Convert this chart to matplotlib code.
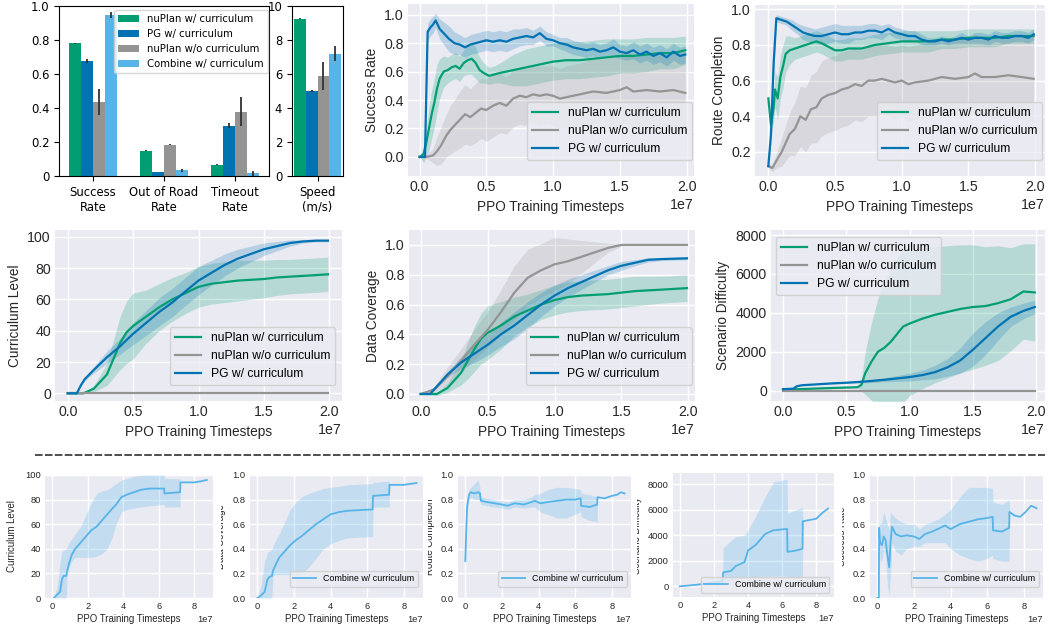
import numpy as np
import matplotlib
matplotlib.use("Agg")
import matplotlib.pyplot as plt
from matplotlib.lines import Line2D
from matplotlib.transforms import Bbox, TransformedBbox

plt.rcParams["font.family"] = ["Liberation Sans", "DejaVu Sans"]

W, H = 1049, 632
GREEN, BLUE, GREY, LBLUE = "#029E73", "#0173B2", "#949494", "#56B4E9"

# ---------------- bar chart data ----------------
methods = ["nuPlan w/ curriculum", "PG w/ curriculum", "nuPlan w/o curriculum", "Combine w/ curriculum"]
method_colors = [GREEN, BLUE, GREY, LBLUE]
rate_groups = ["Success\nRate", "Out of Road\nRate", "Timeout\nRate"]
rate_vals = [[0.78, 0.148, 0.066],
             [0.675, 0.025, 0.297],
             [0.435, 0.185, 0.378],
             [0.945, 0.033, 0.015]]
rate_errs = [[0.003, 0.002, 0.003],
             [0.013, 0.001, 0.015],
             [0.078, 0.003, 0.085],
             [0.018, 0.007, 0.015]]
speed_vals = [9.25, 5.0, 5.87, 7.2]
speed_errs = [0.04, 0.03, 0.82, 0.45]

# ---------------- 2e7 training curves: (x [1e7], mean, std) ----------------
pg_sr = [(0, 0, 0), (0.04, 0, 0), (0.06, 0.88, 0.06), (0.08, 0.91, 0.06), (0.1, 0.93, 0.06), (0.12, 0.96, 0.05),
         (0.15, 0.9, 0.07), (0.18, 0.87, 0.08), (0.22, 0.83, 0.09), (0.26, 0.8, 0.08), (0.3, 0.79, 0.07),
         (0.34, 0.77, 0.07), (0.38, 0.79, 0.07), (0.42, 0.8, 0.07), (0.46, 0.81, 0.07), (0.5, 0.82, 0.07),
         (0.55, 0.81, 0.07), (0.6, 0.82, 0.07), (0.65, 0.81, 0.07), (0.7, 0.83, 0.07), (0.75, 0.84, 0.06),
         (0.8, 0.85, 0.06), (0.85, 0.84, 0.05), (0.9, 0.87, 0.05), (0.95, 0.83, 0.05), (1.0, 0.82, 0.04),
         (1.05, 0.8, 0.04), (1.1, 0.79, 0.05), (1.15, 0.77, 0.05), (1.2, 0.76, 0.05), (1.25, 0.75, 0.05),
         (1.3, 0.76, 0.05), (1.35, 0.74, 0.05), (1.4, 0.75, 0.05), (1.45, 0.77, 0.06), (1.5, 0.74, 0.05),
         (1.55, 0.73, 0.05), (1.6, 0.75, 0.06), (1.65, 0.72, 0.06), (1.7, 0.74, 0.06), (1.75, 0.71, 0.06),
         (1.8, 0.73, 0.06), (1.85, 0.7, 0.06), (1.9, 0.74, 0.06), (1.95, 0.71, 0.06), (1.99, 0.72, 0.06)]
nu_sr = [(0, 0, 0), (0.03, 0.02, 0.06), (0.05, 0.1, 0.1), (0.07, 0.2, 0.15), (0.09, 0.3, 0.17), (0.11, 0.38, 0.17),
         (0.13, 0.48, 0.17), (0.15, 0.55, 0.14), (0.18, 0.6, 0.11), (0.21, 0.61, 0.09), (0.24, 0.63, 0.09),
         (0.27, 0.64, 0.09), (0.3, 0.62, 0.09), (0.33, 0.66, 0.09), (0.36, 0.68, 0.1), (0.39, 0.69, 0.11),
         (0.42, 0.66, 0.11), (0.45, 0.61, 0.09), (0.48, 0.59, 0.07), (0.52, 0.57, 0.06), (0.56, 0.58, 0.06),
         (0.6, 0.59, 0.07), (0.65, 0.6, 0.09), (0.7, 0.61, 0.11), (0.75, 0.62, 0.12), (0.8, 0.63, 0.13),
         (0.85, 0.64, 0.13), (0.9, 0.65, 0.13), (0.95, 0.66, 0.13), (1.0, 0.67, 0.13), (1.1, 0.68, 0.13),
         (1.2, 0.68, 0.13), (1.3, 0.69, 0.13), (1.4, 0.7, 0.13), (1.5, 0.71, 0.12), (1.6, 0.71, 0.12),
         (1.7, 0.72, 0.12), (1.8, 0.73, 0.11), (1.9, 0.73, 0.11), (1.99, 0.75, 0.1)]
wo_sr = [(0, 0, 0), (0.05, 0, 0.01), (0.1, 0.01, 0.05), (0.13, 0.04, 0.1), (0.16, 0.08, 0.13), (0.2, 0.15, 0.15),
         (0.23, 0.19, 0.17), (0.26, 0.22, 0.18), (0.3, 0.26, 0.2), (0.34, 0.3, 0.21), (0.38, 0.28, 0.2),
         (0.42, 0.31, 0.21), (0.46, 0.34, 0.21), (0.5, 0.33, 0.22), (0.55, 0.36, 0.22), (0.6, 0.38, 0.21),
         (0.65, 0.36, 0.2), (0.7, 0.41, 0.2), (0.75, 0.43, 0.2), (0.8, 0.42, 0.2), (0.85, 0.44, 0.2),
         (0.9, 0.43, 0.21), (0.95, 0.44, 0.2), (1.0, 0.43, 0.21), (1.05, 0.41, 0.21), (1.1, 0.42, 0.22),
         (1.15, 0.43, 0.22), (1.2, 0.44, 0.22), (1.3, 0.46, 0.23), (1.4, 0.45, 0.24), (1.5, 0.47, 0.25),
         (1.55, 0.49, 0.25), (1.6, 0.46, 0.26), (1.7, 0.47, 0.26), (1.8, 0.46, 0.27), (1.9, 0.47, 0.28),
         (1.99, 0.45, 0.29)]

pg_rc = [(0, 0.12, 0.01), (0.02, 0.3, 0.05), (0.04, 0.7, 0.06), (0.06, 0.95, 0.02), (0.1, 0.94, 0.02),
         (0.14, 0.93, 0.02), (0.18, 0.91, 0.03), (0.22, 0.89, 0.03), (0.26, 0.87, 0.04), (0.3, 0.86, 0.04),
         (0.35, 0.85, 0.04), (0.4, 0.85, 0.05), (0.45, 0.86, 0.05), (0.5, 0.87, 0.05), (0.55, 0.86, 0.05),
         (0.6, 0.86, 0.05), (0.65, 0.87, 0.04), (0.7, 0.87, 0.04), (0.75, 0.88, 0.04), (0.8, 0.88, 0.04),
         (0.85, 0.87, 0.04), (0.9, 0.89, 0.03), (0.95, 0.87, 0.03), (1.0, 0.86, 0.03), (1.05, 0.85, 0.03),
         (1.1, 0.85, 0.03), (1.15, 0.83, 0.03), (1.2, 0.82, 0.02), (1.25, 0.82, 0.02), (1.3, 0.83, 0.02),
         (1.35, 0.82, 0.02), (1.4, 0.83, 0.02), (1.45, 0.84, 0.03), (1.5, 0.83, 0.02), (1.55, 0.84, 0.03),
         (1.6, 0.84, 0.03), (1.65, 0.83, 0.03), (1.7, 0.85, 0.03), (1.75, 0.84, 0.03), (1.8, 0.84, 0.03),
         (1.85, 0.85, 0.03), (1.9, 0.85, 0.03), (1.95, 0.84, 0.03), (1.99, 0.86, 0.03)]
nu_rc = [(0, 0.5, 0.03), (0.02, 0.35, 0.05), (0.04, 0.45, 0.08), (0.05, 0.55, 0.1), (0.07, 0.5, 0.12),
         (0.09, 0.62, 0.12), (0.11, 0.68, 0.12), (0.13, 0.75, 0.1), (0.16, 0.77, 0.08), (0.2, 0.78, 0.06),
         (0.24, 0.79, 0.06), (0.28, 0.8, 0.06), (0.32, 0.81, 0.06), (0.36, 0.82, 0.06), (0.4, 0.81, 0.06),
         (0.45, 0.79, 0.06), (0.5, 0.77, 0.06), (0.55, 0.77, 0.06), (0.6, 0.78, 0.06), (0.7, 0.78, 0.06),
         (0.8, 0.8, 0.06), (0.9, 0.81, 0.06), (1.0, 0.82, 0.06), (1.1, 0.82, 0.06), (1.2, 0.82, 0.06),
         (1.3, 0.83, 0.05), (1.4, 0.83, 0.05), (1.5, 0.84, 0.05), (1.6, 0.84, 0.05), (1.7, 0.84, 0.05),
         (1.8, 0.85, 0.04), (1.9, 0.85, 0.04), (1.99, 0.85, 0.04)]
wo_rc = [(0, 0.12, 0.01), (0.03, 0.11, 0.02), (0.06, 0.15, 0.04), (0.1, 0.2, 0.08), (0.13, 0.25, 0.1),
         (0.16, 0.3, 0.12), (0.2, 0.33, 0.15), (0.24, 0.4, 0.17), (0.28, 0.38, 0.18), (0.32, 0.44, 0.19),
         (0.36, 0.45, 0.2), (0.4, 0.5, 0.21), (0.45, 0.52, 0.21), (0.5, 0.53, 0.21), (0.55, 0.55, 0.21),
         (0.6, 0.56, 0.21), (0.65, 0.58, 0.2), (0.7, 0.57, 0.2), (0.75, 0.6, 0.2), (0.8, 0.6, 0.2),
         (0.85, 0.61, 0.2), (0.9, 0.6, 0.2), (0.95, 0.59, 0.2), (1.0, 0.6, 0.2), (1.05, 0.58, 0.21),
         (1.1, 0.59, 0.21), (1.2, 0.6, 0.21), (1.3, 0.62, 0.21), (1.4, 0.61, 0.22), (1.5, 0.62, 0.22),
         (1.55, 0.64, 0.22), (1.6, 0.62, 0.22), (1.7, 0.62, 0.23), (1.8, 0.63, 0.23), (1.9, 0.62, 0.24),
         (1.99, 0.61, 0.24)]

pg_cl = [(0, 0, 0), (0.07, 0, 0), (0.1, 5, 0.5), (0.13, 9, 1), (0.2, 15, 2), (0.25, 19, 3), (0.3, 23, 4),
         (0.4, 30, 5), (0.5, 38, 7), (0.6, 45, 8), (0.7, 52, 9), (0.8, 58, 9), (0.87, 63, 9), (1.0, 72, 9),
         (1.1, 77, 8), (1.2, 82, 7), (1.3, 86, 6), (1.4, 89, 5), (1.5, 92, 4), (1.6, 94, 3), (1.7, 96, 2),
         (1.8, 97, 1), (1.9, 97.5, 0.8), (1.99, 97.5, 0.6)]
nu_cl = [(0, 0, 0), (0.12, 0, 0), (0.2, 3, 2), (0.3, 12, 7), (0.35, 22, 12), (0.4, 32, 17), (0.45, 39, 20),
         (0.5, 43, 21), (0.55, 46, 19), (0.6, 49, 17), (0.7, 55, 15), (0.8, 60, 14), (0.9, 64, 13),
         (1.0, 68, 13), (1.1, 70, 13), (1.2, 71, 13), (1.3, 72, 13), (1.4, 72.5, 12.5), (1.5, 73, 12),
         (1.6, 74, 11.5), (1.7, 74.5, 11), (1.8, 75, 11), (1.9, 75.5, 11), (1.99, 76, 11)]
wo_cl = [(0, 0, 0), (1.99, 0, 0)]

pg_dc = [(0, 0, 0), (0.07, 0, 0), (0.12, 0.05, 0.01), (0.2, 0.13, 0.02), (0.3, 0.21, 0.04), (0.4, 0.27, 0.06),
         (0.5, 0.33, 0.07), (0.6, 0.4, 0.08), (0.7, 0.46, 0.09), (0.8, 0.53, 0.09), (0.9, 0.6, 0.08),
         (1.0, 0.66, 0.07), (1.1, 0.71, 0.06), (1.2, 0.75, 0.05), (1.3, 0.79, 0.04), (1.4, 0.83, 0.03),
         (1.5, 0.86, 0.03), (1.6, 0.88, 0.02), (1.7, 0.9, 0.015), (1.8, 0.905, 0.01), (1.99, 0.91, 0.01)]
nu_dc = [(0, 0, 0), (0.12, 0, 0.01), (0.2, 0.04, 0.03), (0.3, 0.14, 0.08), (0.35, 0.22, 0.12),
         (0.4, 0.3, 0.15), (0.45, 0.37, 0.17), (0.5, 0.41, 0.18), (0.6, 0.46, 0.16), (0.7, 0.52, 0.13),
         (0.8, 0.56, 0.11), (0.9, 0.6, 0.1), (1.0, 0.63, 0.1), (1.1, 0.65, 0.1), (1.2, 0.66, 0.1),
         (1.4, 0.67, 0.1), (1.6, 0.69, 0.1), (1.8, 0.7, 0.09), (1.99, 0.71, 0.09)]
wo_dc = [(0, 0, 0), (0.1, 0.03, 0.02), (0.2, 0.12, 0.06), (0.3, 0.22, 0.08), (0.4, 0.33, 0.1),
         (0.5, 0.43, 0.12), (0.6, 0.55, 0.15), (0.7, 0.68, 0.18), (0.8, 0.78, 0.19), (0.9, 0.83, 0.18),
         (1.0, 0.87, 0.18), (1.1, 0.89, 0.15), (1.2, 0.92, 0.11), (1.3, 0.95, 0.07), (1.4, 0.98, 0.03),
         (1.5, 1.0, 0.005), (1.6, 1.0, 0), (1.99, 1.0, 0)]

pg_sd = [(0, 80, 10), (0.08, 100, 20), (0.11, 230, 20), (0.15, 280, 20), (0.2, 300, 20), (0.3, 340, 20),
         (0.4, 380, 30), (0.5, 410, 40), (0.6, 450, 60), (0.7, 500, 80), (0.8, 560, 100), (0.9, 630, 150),
         (1.0, 700, 200), (1.1, 800, 250), (1.2, 950, 350), (1.3, 1200, 450), (1.4, 1550, 650),
         (1.5, 2100, 850), (1.6, 2700, 850), (1.7, 3300, 700), (1.8, 3800, 500), (1.9, 4100, 400),
         (1.99, 4300, 350)]
nu_sd = [(0, 50, 20), (0.3, 120, 30), (0.59, 180, 40), (0.62, 300, 300), (0.65, 900, 1100),
         (0.7, 1500, 2000), (0.75, 2000, 2750), (0.8, 2200, 3300), (0.85, 2500, 3700), (0.9, 2900, 3900),
         (0.95, 3300, 3900), (1.0, 3450, 3700), (1.1, 3700, 3600), (1.2, 3900, 3500), (1.3, 4050, 3400),
         (1.4, 4200, 3300), (1.5, 4300, 3200), (1.6, 4350, 3050), (1.7, 4500, 2950), (1.8, 4700, 2650),
         (1.9, 5100, 2450), (1.99, 5050, 2500)]
wo_sd = [(0, 0, 0), (1.99, 0, 0)]

# ---------------- 8.7e7 combine curves: (x [1e7], mean, low, high) ----------------
cb_cl = [(0.1, 0, 0, 0), (0.3, 3, 0, 10), (0.45, 5, 0, 30), (0.55, 15, 0, 38), (0.65, 18, 0, 39),
         (0.8, 18, 0, 40), (0.85, 22, 20, 42), (0.95, 28, 25, 45), (1.1, 35, 30, 48), (1.3, 40, 33, 52),
         (1.6, 45, 33, 58), (1.9, 50, 33, 68), (2.2, 55, 33, 77), (2.5, 58, 34, 85), (2.8, 63, 36, 87),
         (3.1, 68, 40, 88), (3.4, 73, 50, 91), (3.6, 76, 60, 93), (3.9, 82, 70, 96), (4.2, 84, 72, 97),
         (4.6, 86, 73, 99), (5.0, 88, 74, 100), (5.5, 89, 75, 100), (6.3, 89, 76, 100), (6.32, 85, 74, 97),
         (7.2, 86, 74, 97), (7.22, 94, 94, 94), (8.0, 94, 94, 94), (8.4, 95, 95, 95), (8.7, 96, 96, 96)]
cb_dc = [(0.0, 0, 0, 0), (0.2, 0.02, 0, 0.1), (0.4, 0.05, 0, 0.3), (0.55, 0.15, 0, 0.37),
         (0.65, 0.17, 0, 0.38), (0.8, 0.18, 0, 0.4), (0.85, 0.22, 0.18, 0.42), (1.0, 0.27, 0.19, 0.47),
         (1.2, 0.33, 0.19, 0.52), (1.5, 0.38, 0.19, 0.62), (1.8, 0.43, 0.19, 0.72), (2.1, 0.47, 0.19, 0.78),
         (2.4, 0.5, 0.2, 0.82), (2.8, 0.55, 0.25, 0.85), (3.2, 0.6, 0.32, 0.87), (3.6, 0.64, 0.4, 0.89),
         (4.0, 0.68, 0.44, 0.9), (4.5, 0.7, 0.47, 0.91), (5.0, 0.71, 0.49, 0.92), (6.3, 0.72, 0.5, 0.93),
         (6.32, 0.83, 0.74, 0.94), (7.2, 0.84, 0.74, 0.95), (7.22, 0.92, 0.92, 0.92), (8.0, 0.92, 0.92, 0.92),
         (8.7, 0.935, 0.935, 0.935)]
cb_rc = [(0.0, 0.3, 0.3, 0.3), (0.05, 0.55, 0.5, 0.6), (0.1, 0.75, 0.7, 0.8), (0.2, 0.84, 0.8, 0.88),
         (0.3, 0.86, 0.82, 0.9), (0.5, 0.85, 0.8, 0.93), (0.7, 0.86, 0.8, 0.96), (0.8, 0.85, 0.8, 0.9),
         (0.85, 0.79, 0.76, 0.82), (1.2, 0.78, 0.75, 0.81), (1.6, 0.77, 0.74, 0.8), (2.0, 0.76, 0.73, 0.79),
         (2.3, 0.75, 0.72, 0.78), (2.7, 0.77, 0.74, 0.8), (3.2, 0.76, 0.73, 0.8), (3.6, 0.78, 0.74, 0.82),
         (3.8, 0.79, 0.74, 0.84), (4.1, 0.77, 0.7, 0.85), (4.5, 0.78, 0.68, 0.88), (5.0, 0.79, 0.65, 0.9),
         (5.5, 0.8, 0.65, 0.9), (6.0, 0.8, 0.68, 0.89), (6.3, 0.81, 0.7, 0.88), (6.32, 0.75, 0.66, 0.85),
         (6.8, 0.74, 0.63, 0.84), (7.2, 0.76, 0.62, 0.82), (7.22, 0.82, 0.82, 0.82), (7.6, 0.81, 0.81, 0.81),
         (8.0, 0.83, 0.83, 0.83), (8.3, 0.84, 0.84, 0.84), (8.5, 0.86, 0.86, 0.86), (8.7, 0.85, 0.85, 0.85)]
cb_sd = [(0.0, 0, 0, 0), (1.0, 120, 100, 150), (2.0, 300, 250, 350), (2.5, 400, 300, 600),
         (2.55, 1100, 300, 3000), (3.0, 1200, 500, 3600), (3.3, 1600, 600, 3900), (3.8, 1900, 700, 4000),
         (4.0, 2800, 700, 4400), (4.5, 3300, 750, 5600), (5.0, 4100, 800, 7000), (5.5, 4400, 800, 8200),
         (6.3, 4500, 800, 8400), (6.32, 2700, 700, 5700), (6.8, 2800, 700, 6000), (7.2, 2950, 700, 6200),
         (7.22, 5100, 5100, 5100), (7.6, 5200, 5200, 5200), (8.0, 5300, 5300, 5300), (8.4, 5800, 5800, 5800),
         (8.7, 6100, 6100, 6100)]
cb_sr = [(0.0, 0.0, 0.0, 0.0), (0.08, 0.0, 0, 0.1), (0.1, 0.57, 0.45, 0.62), (0.15, 0.45, 0.3, 0.6),
         (0.25, 0.43, 0.3, 0.62), (0.35, 0.5, 0.4, 0.7), (0.45, 0.47, 0.35, 0.65), (0.55, 0.35, 0.1, 0.6),
         (0.65, 0.25, 0.02, 0.55), (0.72, 0.45, 0.2, 0.7), (0.8, 0.58, 0.45, 0.68), (1.0, 0.52, 0.38, 0.65),
         (1.3, 0.5, 0.35, 0.62), (1.6, 0.51, 0.4, 0.6), (2.0, 0.5, 0.42, 0.6), (2.3, 0.48, 0.42, 0.56),
         (2.6, 0.52, 0.45, 0.6), (3.0, 0.54, 0.45, 0.62), (3.3, 0.56, 0.45, 0.64), (3.7, 0.59, 0.45, 0.68),
         (4.0, 0.56, 0.4, 0.72), (4.5, 0.6, 0.35, 0.82), (5.0, 0.62, 0.32, 0.9), (5.5, 0.64, 0.3, 0.9),
         (6.0, 0.65, 0.32, 0.9), (6.3, 0.66, 0.35, 0.89), (6.32, 0.55, 0.32, 0.78), (6.8, 0.54, 0.3, 0.76),
         (7.2, 0.57, 0.3, 0.8), (7.22, 0.7, 0.7, 0.7), (7.5, 0.67, 0.67, 0.67), (7.8, 0.66, 0.66, 0.66),
         (8.1, 0.7, 0.7, 0.7), (8.4, 0.75, 0.75, 0.75), (8.7, 0.73, 0.73, 0.73)]

fig = plt.figure(figsize=(W / 100, H / 100), dpi=100)


def add_axes(x0, y0, x1, y1):
    # pixel box (left, top, right, bottom) -> figure fraction
    return fig.add_axes([x0 / W, 1 - y1 / H, (x1 - x0) / W, (y1 - y0) / H])


def dark(ax, fs):
    ax.set_facecolor("#EAEAF2")
    ax.grid(True, color="white", lw=1.0)
    ax.set_axisbelow(True)
    for s in ax.spines.values():
        s.set_visible(False)
    ax.tick_params(length=0, labelsize=fs, labelcolor="0.15", pad=3)
    ax.xaxis.get_offset_text().set_fontsize(fs)
    ax.xaxis.get_offset_text().set_color("0.15")


def curve_std(ax, rows, color, label, lw=1.6):
    a = np.array(rows, dtype=float)
    x, m, s = a[:, 0] * 1e7, a[:, 1], a[:, 2]
    ax.fill_between(x, m - s, m + s, color=color, alpha=0.22, lw=0)
    ax.plot(x, m, color=color, lw=lw, label=label)


def curve_band(ax, rows, color, label, lw=1.3):
    a = np.array(rows, dtype=float)
    x, m, lo, hi = a[:, 0] * 1e7, a[:, 1], a[:, 2], a[:, 3]
    ax.fill_between(x, lo, hi, color=color, alpha=0.25, lw=0)
    ax.plot(x, m, color=color, lw=lw, label=label)


def legend(ax, loc, anchor, fs, hl=2.2):
    ax.legend(loc=loc, bbox_to_anchor=anchor, borderaxespad=0, fontsize=fs, handlelength=hl,
              frameon=True, fancybox=True, framealpha=0.8, facecolor="#EAEAF2", edgecolor="0.8")


# ---------------- bar charts ----------------
ax = add_axes(59, 6, 269, 176)
idx = np.arange(len(rate_groups))
bw = 0.17
for i in range(4):
    ax.bar(idx + (i - 1.5) * bw, rate_vals[i], bw, yerr=rate_errs[i], color=method_colors[i],
           label=methods[i], ecolor="0.2", error_kw=dict(elinewidth=1.3))
ax.set_ylim(0, 1.0)
ax.set_yticks([0, 0.2, 0.4, 0.6, 0.8, 1.0])
ax.set_yticklabels(["0", "0.2", "0.4", "0.6", "0.8", "1.0"])
ax.set_xticks(idx)
ax.set_xticklabels(rate_groups)
for t in ax.get_xticklabels() + ax.get_yticklabels():
    t.set_fontfamily("DejaVu Sans")
    t.set_fontsize(8.4)
ax.legend(loc="upper right", bbox_to_anchor=(0.993, 0.978), borderaxespad=0,
          prop={"family": "DejaVu Sans", "size": 7.3})

ax = add_axes(292, 6, 343, 176)
for i in range(4):
    ax.bar((i - 1.5) * bw, speed_vals[i], bw, yerr=speed_errs[i], color=method_colors[i],
           ecolor="0.2", error_kw=dict(elinewidth=1.3))
ax.set_ylim(0, 10)
ax.set_xticks([0])
ax.set_xticklabels(["Speed\n(m/s)"])
for t in ax.get_xticklabels() + ax.get_yticklabels():
    t.set_fontfamily("DejaVu Sans")
    t.set_fontsize(8.4)

# ---------------- 2e7 curves ----------------
FS = 10.2
LAB = 9.8
LFS = 8.7
XLAB = "PPO Training Timesteps"

ax = add_axes(408, 4, 694, 176)
dark(ax, FS)
curve_std(ax, nu_sr, GREEN, "nuPlan w/ curriculum")
curve_std(ax, wo_sr, GREY, "nuPlan w/o curriculum")
curve_std(ax, pg_sr, BLUE, "PG w/ curriculum")
ax.set_xlim(-0.087e7, 2.055e7)
ax.set_ylim(-0.134, 1.075)
ax.set_yticks([0, 0.2, 0.4, 0.6, 0.8, 1.0])
ax.set_xlabel(XLAB, fontsize=LAB, color="0.15")
ax.set_ylabel("Success Rate", fontsize=LAB, color="0.15")
legend(ax, "lower right", (0.993, 0.093), LFS)

ax = add_axes(755, 5, 1045, 176)
dark(ax, FS)
curve_std(ax, nu_rc, GREEN, "nuPlan w/ curriculum")
curve_std(ax, wo_rc, GREY, "nuPlan w/o curriculum")
curve_std(ax, pg_rc, BLUE, "PG w/ curriculum")
ax.set_xlim(-0.1e7, 2.075e7)
ax.set_ylim(0.065, 1.024)
ax.set_yticks([0.2, 0.4, 0.6, 0.8, 1.0])
ax.set_xlabel(XLAB, fontsize=LAB, color="0.15")
ax.set_ylabel("Route Completion", fontsize=LAB, color="0.15")
legend(ax, "lower right", (0.99, 0.093), LFS)

ax = add_axes(55, 230, 342, 401)
dark(ax, FS)
curve_std(ax, nu_cl, GREEN, "nuPlan w/ curriculum")
curve_std(ax, wo_cl, GREY, "nuPlan w/o curriculum")
curve_std(ax, pg_cl, BLUE, "PG w/ curriculum")
ax.set_xlim(-0.097e7, 2.097e7)
ax.set_ylim(-4.9, 104.3)
ax.set_xlabel(XLAB, fontsize=LAB, color="0.15")
ax.set_ylabel("Curriculum Level", fontsize=LAB, color="0.15")
legend(ax, "lower right", (0.976, 0.094), LFS)

ax = add_axes(409, 230, 695, 401)
dark(ax, FS)
curve_std(ax, nu_dc, GREEN, "nuPlan w/ curriculum")
curve_std(ax, wo_dc, GREY, "nuPlan w/o curriculum")
curve_std(ax, pg_dc, BLUE, "PG w/ curriculum")
ax.set_xlim(-0.0875e7, 2.05e7)
ax.set_ylim(-0.047, 1.1)
ax.set_yticks([0, 0.2, 0.4, 0.6, 0.8, 1.0])
ax.set_xlabel(XLAB, fontsize=LAB, color="0.15")
ax.set_ylabel("Data Coverage", fontsize=LAB, color="0.15")
legend(ax, "lower right", (0.988, 0.094), LFS)

ax = add_axes(771, 230, 1045, 401)
dark(ax, FS)
curve_std(ax, nu_sd, GREEN, "nuPlan w/ curriculum")
curve_std(ax, wo_sd, GREY, "nuPlan w/o curriculum")
curve_std(ax, pg_sd, BLUE, "PG w/ curriculum")
ax.set_xlim(-0.095e7, 2.071e7)
ax.set_ylim(-530, 8260)
ax.set_yticks([0, 2000, 4000, 6000, 8000])
ax.set_xlabel(XLAB, fontsize=LAB, color="0.15")
ax.set_ylabel("Scenario Difficulty", fontsize=LAB, color="0.15")
legend(ax, "upper left", (0.018, 0.959), LFS)

# ---------------- separator ----------------
fig.add_artist(Line2D([35 / W, 1045 / W], [1 - 455 / H, 1 - 455 / H], transform=fig.transFigure,
                      color="0.25", lw=1.3, dashes=(4.2, 1.3)))

# ---------------- 8.7e7 combine curves ----------------
SFS = 6.7
SLFS = 6.9
SLEG = 6.4
bottom = [
    ((45, 475, 213, 598), cb_cl, "Curriculum Level", (0, 100), [0, 20, 40, 60, 80, 100], None, -0.167, None),
    ((250, 475, 423, 598), cb_dc, "Data Coverage", (0, 1.0), [0, 0.2, 0.4, 0.6, 0.8, 1.0], (0.971, 0.092), -0.139, 220.5),
    ((458, 475, 631, 598), cb_rc, "Route Completion", (0, 1.0), [0, 0.2, 0.4, 0.6, 0.8, 1.0], (0.975, 0.092), -0.133, 428),
    ((673, 473, 834, 597), cb_sd, "Scenario Difficulty", (-840, 8890), [0, 2000, 4000, 6000, 8000], (0.971, 0.035), -0.193, 636.5),
    ((870, 475, 1043, 598), cb_sr, "Success Rate", (0, 1.0), [0, 0.2, 0.4, 0.6, 0.8, 1.0], (0.977, 0.092), -0.133, 842),
]
for box, rows, ylab, ylim, yt, leg_anchor, lab_x, clip_x in bottom:
    ax = add_axes(*box)
    dark(ax, SFS)
    curve_band(ax, rows, LBLUE, "Combine w/ curriculum")
    ax.set_xlim(-0.4e7, 9.05e7)
    ax.set_ylim(*ylim)
    ax.set_yticks(yt)
    ax.set_xticks([0, 2e7, 4e7, 6e7, 8e7])
    ax.set_xlabel(XLAB, fontsize=SLFS, color="0.15", labelpad=2)
    ax.set_ylabel(ylab, fontsize=SLFS, color="0.15")
    ax.yaxis.set_label_coords(lab_x, 0.5)
    if clip_x is not None:
        lab = ax.yaxis.label
        lab.set_clip_box(TransformedBbox(Bbox.from_extents(clip_x / W, 0, 1, 1), fig.transFigure))
        lab.set_clip_on(True)
    if leg_anchor is not None:
        legend(ax, "lower right", leg_anchor, SLEG, hl=2.6)

fig.savefig("out.png", dpi=100)
